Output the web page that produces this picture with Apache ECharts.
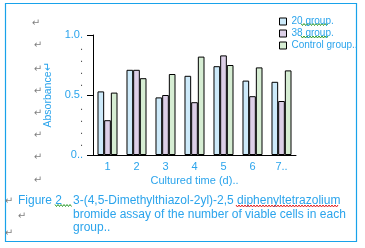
<!DOCTYPE html>
<html><head><meta charset="utf-8">
<script src="https://cdn.jsdelivr.net/npm/echarts@6/dist/echarts.min.js"></script>
<style>html,body{margin:0;padding:0;background:#fff}#c{width:365px;height:248px}</style>
</head><body><div id="c"></div>
<script>
const categories = ['1','2','3','4','5','6','7..'];
const seriesNames = ['20 group.', '38 group.', 'Control group..'];
const group20 = [0.53, 0.71, 0.48, 0.66, 0.74, 0.62, 0.61];
const group38 = [0.29, 0.71, 0.50, 0.44, 0.83, 0.49, 0.45];
const groupCtrl = [0.52, 0.64, 0.675, 0.82, 0.75, 0.73, 0.705];
const majorLabels = {'0': '0..', '0.5': '0.5.', '1': '1.0.'};

const TXT = '#2ba4ec';
const FONT = 'Liberation Sans, Arial, sans-serif';
const colors = ['#cdeafa', '#dccfe7', '#d6edd3'];

function wavy(x1, x2, y, color) {
  const pts = [];
  let up = true;
  for (let x = x1; x <= x2; x += 1.5) { pts.push([x, up ? y - 1 : y + 1]); up = !up; }
  return { type: 'polyline', shape: { points: pts }, style: { stroke: color, lineWidth: 1, fill: null }, silent: true };
}
function mark(x, y) {
  return { type: 'text', x: x, y: y, style: { text: '↵', fill: '#808080', font: '10px DejaVu Sans', textAlign: 'center', textVerticalAlign: 'middle' }, silent: true };
}
function txt(x, y, s, size) {
  return { type: 'text', x: x, y: y, style: { text: s, fill: TXT, font: (size || 12) + 'px ' + FONT, textVerticalAlign: 'middle' }, silent: true };
}

const chart = echarts.init(document.getElementById('c'), null, { renderer: 'canvas' });
const data = [group20, group38, groupCtrl];
chart.setOption({
  animation: false,
  textStyle: { fontFamily: FONT },
  grid: { left: 93, right: 69, top: 35, bottom: 93, containLabel: false },
  legend: {
    orient: 'vertical', left: 274, top: 11.5, itemWidth: 7, itemHeight: 7, itemGap: 2,
    icon: 'rect', itemStyle: { borderWidth: 1, borderColor: '#000' },
    textStyle: { color: TXT, fontSize: 10, fontFamily: FONT, padding: [0,0,0,0] },
    data: seriesNames
  },
  xAxis: {
    type: 'category', data: categories,
    axisLine: { lineStyle: { color: '#000', width: 1 } },
    axisTick: { length: 5, lineStyle: { color: '#000' } },
    axisLabel: { color: TXT, fontSize: 11, margin: 6 },
    name: 'Cultured time (d)..', nameLocation: 'middle', nameGap: 20,
    nameTextStyle: { color: TXT, fontSize: 11 }
  },
  yAxis: [{
    type: 'value', min: 0, max: 1, interval: 0.1,
    axisLine: { show: true, lineStyle: { color: '#000' } },
    axisTick: { show: false }, splitLine: { show: false },
    axisLabel: { show: true, fontSize: 11, margin: 10,
      formatter: function (v) {
        const k = String(Math.round(v * 10) / 10);
        return majorLabels[k] ? '{m|' + majorLabels[k] + '}' : '{d|.}';
      },
      rich: { m: { color: TXT, fontSize: 11 }, d: { color: '#555', fontSize: 11 } } },
    name: 'Absorbance↵', nameLocation: 'middle', nameGap: 35,
    nameTextStyle: { color: TXT, fontSize: 10.5 }
  }, {
    type: 'value', min: 0, max: 1, interval: 0.5, position: 'left', offset: 0,
    axisLine: { show: false }, splitLine: { show: false },
    axisTick: { show: true, length: 6, lineStyle: { color: '#000' } },
    axisLabel: { show: false }
  }],
  series: seriesNames.map((n, i) => ({
    name: n, type: 'bar', data: data[i], barGap: '0%', barCategoryGap: '31%',
    itemStyle: { color: colors[i], borderColor: '#000', borderWidth: 1 }
  })),
  graphic: [
    { type: 'rect', shape: { x: 5.5, y: 3.5, width: 351, height: 238 }, style: { stroke: '#18a2ea', lineWidth: 1.2, fill: null }, silent: true },
    mark(36, 23), mark(38, 45), mark(38, 69), mark(38, 91), mark(38, 113), mark(38, 135), mark(38, 157), mark(38, 180),
    mark(9, 201), mark(22, 216), mark(9, 233),
    txt(18, 201, 'Figure 2'),
    txt(73, 201, '3-(4,5-Dimethylthiazol-2yl)-2,5 diphenyltetrazolium'),
    txt(73, 215, 'bromide assay of the number of viable cells in each'),
    txt(73, 228, 'group..'),
    wavy(301, 329, 24.5, '#2a9a2a'), wavy(301, 329, 37, '#2a9a2a'),
    wavy(55, 72, 205.5, '#2a9a2a'), wavy(236, 339, 206, '#e02020')
  ]
});
</script></body></html>
